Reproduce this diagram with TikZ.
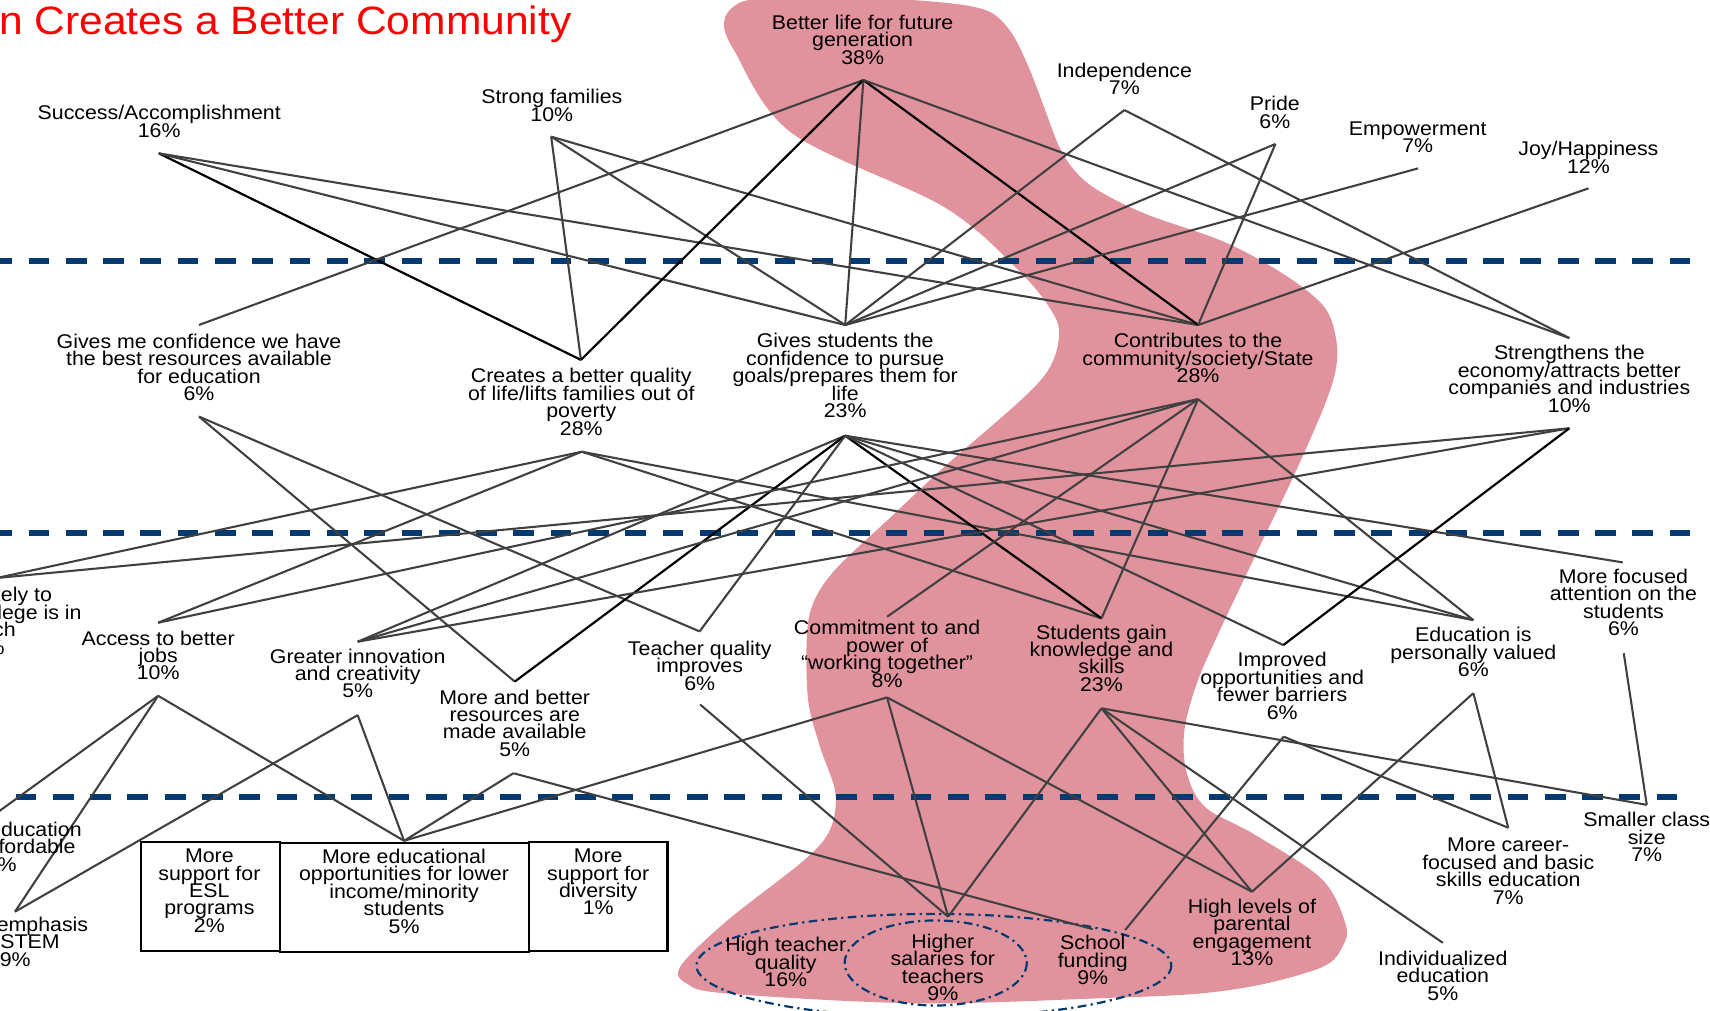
\documentclass[tikz,border=0pt]{standalone}
\usepackage{fontspec}
\setmainfont[FakeStretch=1.075]{Liberation Sans}
\definecolor{pinkfill}{RGB}{224,147,157}
\definecolor{navy}{RGB}{0,58,112}
\definecolor{linegray}{RGB}{64,64,64}
\lineskiplimit=-16383pt
\lineskip=0pt
\begin{document}
\begin{tikzpicture}[x=1pt,y=-1pt,
  lbl/.style={align=center, anchor=base, inner sep=0pt, font=\fontsize{18.2}{16}\selectfont},
  conn/.style={draw=linegray, line width=1.9pt},
  connb/.style={draw=black, line width=2pt},
  sepline/.style={draw=navy, line width=5.5pt, dash pattern=on 19pt off 15.2pt},
  ell/.style={draw=navy, line width=2pt, dash pattern=on 8pt off 4pt on 2pt off 4pt},
  boxed/.style={draw=black, line width=2pt, inner sep=0pt, anchor=north west}]
\useasboundingbox (0,0) rectangle (1568,927);
\fill[white] (0,0) rectangle (1568,927);
% pink highlight
\fill[pinkfill] plot[smooth cycle, tension=0.55] coordinates {(664,20) (674,5) (695,-1) (760,-3) (850,1) (903,9) (926,28) (943,61) (958,100) (971,134) (985,156) (1006,174) (1050,196) (1123,222) (1178,252) (1214,281) (1225,310) (1225,338) (1214,373) (1186,437) (1158,495) (1120,575) (1098,625) (1086,670) (1088,708) (1105,740) (1150,765) (1212,806) (1234,848) (1231,868) (1214,886) (1160,902) (1100,911) (1017,915) (842,920) (667,911) (630,902) (624,886) (667,844) (737,789) (761,761) (766,727) (752,685) (741,642) (740,581) (747,550) (768,520) (817,474) (866,428) (936,367) (962,338) (971,310) (966,288) (936,250) (866,190) (726,122) (673,46)};
% separators
\draw[sepline] (-8,239) -- (1550,239);
\draw[sepline] (-8,488.5) -- (1550,488.5);
\draw[sepline] (14.3,730.6) -- (1538,730.6);
% ellipses
\draw[ell] (856.3,885.5) ellipse [x radius=217.7, y radius=47.5];
\draw[ell] (858,883) ellipse [x radius=83.5, y radius=39];
% anchor coordinates
\coordinate (A1b) at (145.6,140.6);
\coordinate (A2b) at (505.4,125.3);
\coordinate (A3b) at (791.7,73.4);
\coordinate (A4b) at (1031,100.9);
\coordinate (A5b) at (1169.5,132);
\coordinate (A6b) at (1300.3,154.4);
\coordinate (A7b) at (1456.6,172.7);
\coordinate (B1t) at (182.5,298);   \coordinate (B1b) at (182.5,382);
\coordinate (B2t) at (532.7,330);   \coordinate (B2b) at (533.4,414.2);
\coordinate (B3t) at (775,298);     \coordinate (B3b) at (775,399.5);
\coordinate (B4t) at (1098.6,298);  \coordinate (B4b) at (1098.6,366);
\coordinate (B5t) at (1439,310);    \coordinate (B5b) at (1439,392.7);
\coordinate (C1t) at (-3,530);
\coordinate (C2t) at (145,571);     \coordinate (C2b) at (145,638);
\coordinate (C3t) at (328,588.4);   \coordinate (C3b) at (328,655.7);
\coordinate (C4t) at (472,625);     \coordinate (C4b) at (470.8,709);
\coordinate (C5t) at (641.5,579);   \coordinate (C5b) at (642,646);
\coordinate (C6t) at (813.4,565.5); \coordinate (C6b) at (813.4,639.5);
\coordinate (C7t) at (1010,567);    \coordinate (C7b) at (1010,649.5);
\coordinate (C8t) at (1176.7,591.5);\coordinate (C8b) at (1177,675.5);
\coordinate (C9t) at (1351,568.6);  \coordinate (C9b) at (1351,635.6);
\coordinate (C10t) at (1488,515.7); \coordinate (C10b) at (1488.9,599);
\coordinate (D1t) at (-1,744);
\coordinate (D2t) at (13.75,836);
\coordinate (D4t) at (370.5,771);
\coordinate (D7t) at (869.4,840.6);
\coordinate (D8t) at (1002,852);    \coordinate (D8u) at (1031.7,852.8);
\coordinate (D9t) at (1148,817.7);
\coordinate (D10t) at (1323,864.5);
\coordinate (D11t) at (1383,759);
\coordinate (D12t) at (1510,738);
% connectors: values -> consequences
\draw[connb] (A1b) -- (B2t);
\draw[conn] (A1b) -- (B3t);
\draw[conn] (A1b) -- (B4t);
\draw[conn] (A2b) -- (B2t);
\draw[conn] (A2b) -- (B3t);
\draw[conn] (A2b) -- (B4t);
\draw[conn] (A3b) -- (B1t);
\draw[connb] (A3b) -- (B2t);
\draw[conn] (A3b) -- (B3t);
\draw[connb] (A3b) -- (B4t);
\draw[conn] (A3b) -- (B5t);
\draw[conn] (A4b) -- (B3t);
\draw[conn] (A4b) -- (B5t);
\draw[conn] (A5b) -- (B3t);
\draw[conn] (A5b) -- (B4t);
\draw[conn] (A6b) -- (B3t);
\draw[conn] (A7b) -- (B4t);
% consequences -> consequences
\draw[conn] (B1b) -- (C4t);
\draw[conn] (B1b) -- (C5t);
\draw[conn] (B2b) -- (C1t);
\draw[conn] (B2b) -- (C2t);
\draw[conn] (B2b) -- (C7t);
\draw[conn] (B2b) -- (C9t);
\draw[conn] (B3b) -- (C3t);
\draw[connb] (B3b) -- (C4t);
\draw[conn] (B3b) -- (C5t);
\draw[connb] (B3b) -- (C7t);
\draw[conn] (B3b) -- (C8t);
\draw[conn] (B3b) -- (C9t);
\draw[conn] (B3b) -- (C10t);
\draw[conn] (B4b) -- (C2t);
\draw[conn] (B4b) -- (C3t);
\draw[conn] (B4b) -- (C6t);
\draw[conn] (B4b) -- (C7t);
\draw[conn] (B4b) -- (C9t);
\draw[conn] (B5b) -- (C1t);
\draw[conn] (B5b) -- (C3t);
\draw[connb] (B5b) -- (C8t);
% consequences -> attributes
\draw[conn] (C2b) -- (D1t);
\draw[conn] (C2b) -- (D2t);
\draw[conn] (C2b) -- (D4t);
\draw[conn] (C3b) -- (D2t);
\draw[conn] (C3b) -- (D4t);
\draw[conn] (C4b) -- (D4t);
\draw[conn] (C4b) -- (D8t);
\draw[conn] (C5b) -- (D7t);
\draw[conn] (C6b) -- (D4t);
\draw[conn] (C6b) -- (D7t);
\draw[conn] (C6b) -- (D9t);
\draw[conn] (C7b) -- (D7t);
\draw[conn] (C7b) -- (D9t);
\draw[conn] (C7b) -- (D10t);
\draw[conn] (C7b) -- (D12t);
\draw[conn] (C8b) -- (D8u);
\draw[conn] (C8b) -- (D11t);
\draw[conn] (C9b) -- (D11t);
\draw[conn] (C9b) -- (D9t);
\draw[conn] (C10b) -- (D12t);
% boxes
\node[boxed, minimum width=128pt, minimum height=100pt] (D3box) at (128,771) {};
\node[boxed, minimum width=228pt, minimum height=100pt] (D4box) at (256,772) {};
\node[boxed, minimum width=127pt, minimum height=100pt] (D5box) at (484,771) {};
% title
\node[anchor=base west, inner sep=0pt, text=red, font=\fontsize{36.3}{40}\selectfont] (title) at (-1,32) {n Creates a Better Community};
% labels row 1 (positions = baseline of last line)
\node[lbl] (A1) at (146,126) {Success/Accomplishment\\16\%};
\node[lbl] (A2) at (506,111) {Strong families\\10\%};
\node[lbl] (A3) at (791,59) {Better life for future\\generation\\38\%};
\node[lbl] (A4) at (1031,87) {Independence\\7\%};
\node[lbl] (A5) at (1169,117.5) {Pride\\6\%};
\node[lbl] (A6) at (1300,140) {Empowerment\\7\%};
\node[lbl] (A7) at (1456.5,159) {Joy/Happiness\\12\%};
% row 2
\node[lbl] (B1) at (182.5,367.4) {Gives me confidence we have\\the best resources available\\for education\\6\%};
\node[lbl] (B2) at (533,399) {Creates a better quality\\of life/lifts families out of\\poverty\\28\%};
\node[lbl] (B3) at (775,383) {Gives students the\\confidence to pursue\\goals/prepares them for\\life\\23\%};
\node[lbl] (B4) at (1098.5,351) {Contributes to the\\community/society/State\\28\%};
\node[lbl] (B5) at (1439,378) {Strengthens the\\economy/attracts better\\companies and industries\\10\%};
% row 3
\node[lbl] (C1) at (-10,599.7) {More likely to\\believe college is in\\reach\\5\%};
\node[lbl] (C2) at (145,623.5) {Access to better\\jobs\\10\%};
\node[lbl] (C3) at (328,640) {Greater innovation\\and creativity\\5\%};
\node[lbl] (C4) at (472,693.6) {More and better\\resources are\\made available\\5\%};
\node[lbl] (C5) at (641.6,632.7) {Teacher quality\\improves\\6\%};
\node[lbl] (C6) at (813.4,630) {Commitment to and\\power of\\“working together”\\8\%};
\node[lbl] (C7) at (1010,634) {Students gain\\knowledge and\\skills\\23\%};
\node[lbl] (C8) at (1175.7,659.5) {Improved\\opportunities and\\fewer barriers\\6\%};
\node[lbl] (C9) at (1351,620.4) {Education is\\personally valued\\6\%};
\node[lbl] (C10) at (1488.6,583) {More focused\\attention on the\\students\\6\%};
% row 4
\node[lbl] (D1) at (1,799) {Higher education\\more affordable\\8\%};
\node[lbl] (D2) at (14,886) {More emphasis\\on STEM\\9\%};
\node[lbl] (D3) at (192,855) {More\\support for\\ESL\\programs\\2\%};
\node[lbl] (D4) at (370.5,855.6) {More educational\\opportunities for lower\\income/minority\\students\\5\%};
\node[lbl] (D5) at (548.5,839) {More\\support for\\diversity\\1\%};
\node[lbl] (D6) at (720.5,904.7) {High teacher\\quality\\16\%};
\node[lbl] (D7) at (864.6,917.6) {Higher\\salaries for\\teachers\\9\%};
\node[lbl] (D8) at (1002,903) {School\\funding\\9\%};
\node[lbl] (D9) at (1148,885.5) {High levels of\\parental\\engagement\\13\%};
\node[lbl] (D10) at (1323,917) {Individualized\\education\\5\%};
\node[lbl] (D11) at (1383,829) {More career-\\focused and basic\\skills education\\7\%};
\node[lbl] (D12) at (1510,790) {Smaller class\\size\\7\%};
\end{tikzpicture}
\end{document}
